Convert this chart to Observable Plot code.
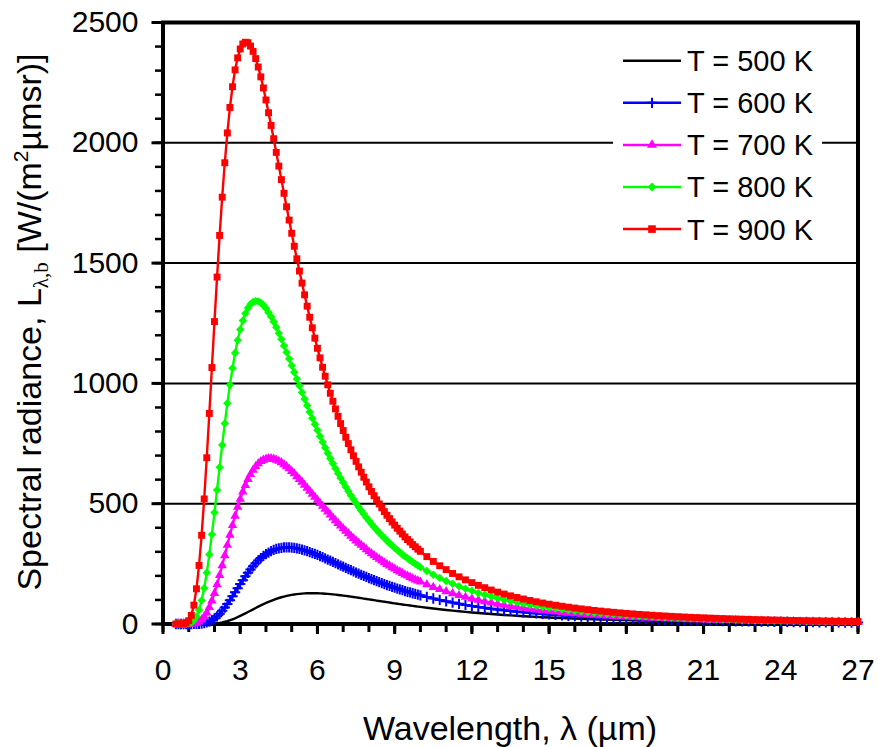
<!DOCTYPE html>
<html><head><meta charset="utf-8">
<script src="https://cdn.jsdelivr.net/npm/d3@7"></script>
<script src="https://cdn.jsdelivr.net/npm/@observablehq/plot@0.6"></script>
<style>
html,body{margin:0;padding:0;background:#fff;}
#chart{width:878px;height:747px;}
</style></head><body><div id="chart"></div>
<script>
// Wavelength grid (µm)
const wavelength = [
0.5,0.6,0.7,0.8,0.9,1.0,1.1,1.2,1.3,1.4,
1.5,1.6,1.7,1.8,1.9,2.0,2.1,2.2,2.3,2.4,
2.5,2.6,2.7,2.8,2.9,3.0,3.1,3.2,3.3,3.4,
3.5,3.6,3.7,3.8,3.9,4.0,4.1,4.2,4.3,4.4,
4.5,4.6,4.7,4.8,4.9,5.0,5.1,5.2,5.3,5.4,
5.5,5.6,5.7,5.8,5.9,6.0,6.1,6.2,6.3,6.4,
6.5,6.6,6.7,6.8,6.9,7.0,7.1,7.2,7.3,7.4,
7.5,7.6,7.7,7.8,7.9,8.0,8.1,8.2,8.3,8.4,
8.5,8.6,8.7,8.8,8.9,9.0,9.1,9.2,9.3,9.4,
9.5,9.6,9.7,9.8,9.9,10.0,
10.25,10.5,10.75,11,11.25,11.5,11.75,12,12.25,12.5,
12.75,13,13.25,13.5,13.75,14,14.25,14.5,14.75,15,
15.25,15.5,15.75,16,16.25,16.5,16.75,17,17.25,17.5,
17.75,18,18.25,18.5,18.75,19,19.25,19.5,19.75,20,
20.25,20.5,20.75,21,21.25,21.5,21.75,22,22.25,22.5,
22.75,23,23.25,23.5,23.75,24,24.25,24.5,24.75,25,
25.25,25.5,25.75,26,26.25,26.5,26.75,27];

const L500 = [
0,0,0,0,0,0,0,0,0,0,
0.1,0.2,0.4,0.7,1.3,2.1,3.3,4.8,6.8,9.3,
12.2,15.6,19.5,23.8,28.5,33.5,38.7,44.1,49.7,55.3,
60.9,66.5,72.0,77.3,82.4,87.4,92.1,96.5,100.6,104.5,
108.0,111.2,114.1,116.8,119.0,121.1,122.8,124.2,125.4,126.4,
127.2,127.6,127.9,128.0,127.9,127.6,127.2,126.6,125.9,125.1,
124.1,123.1,122.0,120.8,119.5,118.1,116.7,115.2,113.7,112.2,
110.6,109.0,107.4,105.7,104.1,102.4,100.7,99.1,97.4,95.7,
94.1,92.4,90.8,89.2,87.5,85.9,84.4,82.8,81.3,79.7,
78.2,76.7,75.3,73.8,72.4,71.0,
67.6,64.4,61.3,58.3,55.5,52.8,50.3,47.9,45.6,43.4,
41.3,39.4,37.5,35.75,34.1,32.5,31.0,29.6,28.3,27.0,
25.8,24.65,23.6,22.5,21.6,20.6,19.75,18.9,18.1,17.4,
16.65,15.97,15.3,14.7,14.1,13.56,13.0,12.52,12.03,11.57,
11.14,10.71,10.31,9.93,9.57,9.22,8.88,8.56,8.26,7.96,
7.68,7.42,7.16,6.92,6.68,6.46,6.24,6.03,5.83,5.64,
5.46,5.28,5.11,4.95,4.80,4.65,4.50,4.36];

const L600 = [
0,0,0,0,0,0,0,0.1,0.3,0.8,
1.8,3.5,6.3,10.3,15.9,23.1,32.0,42.6,54.9,68.5,
83.3,99.0,115.3,132.1,149,166,182,198,213,227,
240,252,264,274,283,290,297,303,308,312,
314,316,318,318,318,317.5,316,314,312,309,
306,303,299,295,291,287,282,278,273,268,
263,258,253,248,243,238,233,228,223.5,219,
214,209,204.5,200,195.4,191,186.6,182,178,174,
170,166,162,158,154.6,151,147.4,144,140.6,137,
134,131,127.8,125,121.9,119,
112.3,106,99.9,94.3,89.0,84.0,79.4,75.1,71.0,67.2,
63.6,60.2,57.1,54.1,51.3,48.7,46.3,44.0,41.8,39.7,
37.8,36.0,34.3,32.7,31.1,29.7,28.4,27.1,25.9,24.7,
23.6,22.6,21.6,20.7,19.8,19.0,18.2,17.45,16.7,16.07,
15.4,14.8,14.2,13.67,13.1,12.65,12.2,11.7,11.3,10.85,
10.45,10.07,9.71,9.37,9.03,8.72,8.41,8.12,7.84,7.58,
7.32,7.08,6.84,6.62,6.40,6.19,5.99,5.80];

const L700 = [
0,0,0,0,0,0.1,0.6,1.7,4.4,9.3,
17.6,29.9,47.1,69.2,96.4,128.1,163.8,202.4,243.4,285,
328,370,410,449,486,519,550,577,602,622,
640,655,667,676,682,686,688,688,686,682,
677,671,663,655,646,635,625,613,602,590,
578,565,553,540,528,515,502,490,478,466,
454,442,430,419,408,397,386,376,366,356,
346,337,328,319,310,301,293,285,277,270,
262.5,255,248.5,242,235,229,222.7,217,211,205,
200,194.5,189.4,184,179.6,175,
163.8,153,143.9,135,126.7,119,111.9,105.3,99.2,93.4,
88.1,83.1,78.4,74.1,70.1,66.3,62.7,59.4,56.3,53.4,
50.7,48.1,45.7,43.5,41.3,39.3,37.5,35.7,34.0,32.4,
31.0,29.6,28.2,27.0,25.8,24.7,23.6,22.6,21.6,20.7,
19.9,19.1,18.3,17.55,16.9,16.2,15.6,14.95,14.4,13.8,
13.3,12.8,12.3,11.9,11.45,11.04,10.64,10.27,9.91,9.56,
9.23,8.92,8.61,8.32,8.04,7.78,7.52,7.27];

const L800 = [
0,0,0,0.1,0.4,1.8,5.9,14.8,31.5,58.4,
97.3,149.1,213.5,288.5,372.5,463,557,651,744,833,
917,994,1063,1126,1179,1224,1261,1291,1313,1329,
1338,1342,1341,1335,1325,1312,1295,1277,1256,1233,
1208,1183,1156,1129,1102,1074,1046,1018,990,962,
935,908,881,855,830,805,780,756,733,710,
688,667,646,626,607,588,569,552,534,518,
502,486,471,457,443,429,416,403,391,379,
368,357,346,336,326,316,307,298,289,281,
273,265,257.5,250,243,236,
220.2,205,191.7,179,167.5,157,146.9,138,129.2,121.4,
114.1,107.3,101.0,95.2,89.8,84.7,80.0,75.6,71.5,67.7,
64.1,60.8,57.6,54.7,51.9,49.3,46.9,44.6,42.5,40.4,
38.5,36.7,35.0,33.4,31.9,30.5,29.2,27.9,26.7,25.5,
24.5,23.4,22.4,21.5,20.65,19.8,19.0,18.3,17.6,16.9,
16.2,15.6,15.0,14.5,13.9,13.4,12.9,12.45,12.0,11.58,
11.17,10.78,10.41,10.05,9.71,9.38,9.07,8.77];

const L900 = [
0,0,0.1,0.8,3.9,13.6,36,78.4,146.3,243.2,
368.7,519.8,691,875,1066,1257,1442,1615,1774,1917,
2041,2147,2233,2303,2353,2390,2411,2418,2416,2402,
2380,2350,2315,2274,2228,2178,2125,2072,2017,1960,
1903,1847,1790,1734,1679,1624,1570,1518,1467,1417,
1368,1321,1275,1231,1188,1146,1106,1067,1030,994,
959,926,894,863,833,804,776,750,724,699,
676,653,631,610,590,570,551,533,516,499,
483,467,452,438,424,411,398,386,374,362,
351,341,330,321,311,302,
280,260,242,226,210,196,183.5,172,160.6,151,
141.2,132.5,124.5,117,110.2,103.8,97.9,92.4,87.2,82.4,
77.9,73.8,69.9,66.2,62.8,59.6,56.5,53.7,51.1,48.6,
46.3,44.1,42.0,40.0,38.2,36.5,34.8,33.3,31.8,30.4,
29.1,27.8,26.7,25.6,24.5,23.5,22.5,21.6,20.8,19.95,
19.2,18.4,17.7,17.1,16.4,15.8,15.2,14.7,14.1,13.6,
13.1,12.7,12.2,11.8,11.4,11.0,10.6,10.3];

const temperatures = [500, 600, 700, 800, 900];
const legendLabels = ["T = 500 K", "T = 600 K", "T = 700 K", "T = 800 K", "T = 900 K"];
const xMajorTicks = [0, 3, 6, 9, 12, 15, 18, 21, 24, 27];
const xMinorTicks = [0,1,2,3,4,5,6,7,8,9,10,11,12,13,14,15,16,17,18,19,20,21,22,23,24,25,26,27];
const yMajorTicks = [0, 500, 1000, 1500, 2000, 2500];
const yMinorTicks = [0,100,200,300,400,500,600,700,800,900,1000,1100,1200,1300,1400,1500,1600,1700,1800,1900,2000,2100,2200,2300,2400,2500];
const gridValues = [500, 1000, 1500, 2000];

// styling per series (no data here)
const styles = [
  {color: "#000000", symbol: null},
  {color: "#0000FF", symbol: "plus", r: 3.4, legendR: 3.4},
  {color: "#FF00FF", symbol: "triangle", r: 3.5, legendR: 3.7},
  {color: "#00FF00", symbol: "diamond2", r: 3.8, legendR: 4.0},
  {color: "#FF0000", symbol: "square", r: 3.9, legendR: 4.3}
];
const valuesByT = [L500, L600, L700, L800, L900];

const FONT = "'Liberation Sans', Arial, Helvetica, sans-serif";

const marks = [
  Plot.ruleY(gridValues, {stroke: "black", strokeWidth: 2}),
  Plot.axisY({ticks: yMinorTicks, tickSize: 7.5, strokeWidth: 2.5, tickFormat: () => "", label: null}),
  Plot.axisY({ticks: yMajorTicks, tickSize: 11, tickPadding: 13.5, strokeWidth: 3, fontSize: 30, tickFormat: d3.format("d"), label: null}),
  Plot.axisX({ticks: xMinorTicks, tickSize: 8.5, strokeWidth: 3, tickFormat: () => "", label: null}),
  Plot.axisX({ticks: xMajorTicks, tickSize: 10.5, tickPadding: 24, strokeWidth: 3, fontSize: 30, tickFormat: d3.format("d"), label: null}),
  Plot.frame({stroke: "black", strokeWidth: 4})
];

temperatures.forEach((T, i) => {
  const rows = wavelength.map((w, j) => ({w, L: valuesByT[i][j], T}));
  const s = styles[i];
  marks.push(Plot.line(rows, {x: "w", y: "L", stroke: s.color, strokeWidth: 2.4}));
  if (s.symbol === "plus") {
    marks.push(Plot.dot(rows, {x: "w", y: "L", symbol: "plus", stroke: s.color, fill: "none", strokeWidth: 2, r: s.r}));
  } else if (s.symbol) {
    marks.push(Plot.dot(rows, {x: "w", y: "L", symbol: s.symbol, fill: s.color, stroke: "none", r: s.r}));
  }
});

const svg = Plot.plot({
  width: 878,
  height: 747,
  marginLeft: 162.5,
  marginRight: 20.5,
  marginTop: 22,
  marginBottom: 123.5,
  style: {fontFamily: FONT, background: "white", color: "black"},
  x: {domain: [0, 27]},
  y: {domain: [0, 2500]},
  marks
});

const root = d3.select(svg);

// Axis titles
const yt = root.append("text")
  .attr("transform", "translate(41,322) rotate(-90)")
  .attr("text-anchor", "middle")
  .attr("font-size", 34)
  .attr("font-family", FONT)
  .attr("fill", "black");
yt.append("tspan").text("Spectral radiance, L");
yt.append("tspan").attr("font-size", 21).attr("font-family", "'Liberation Serif', 'DejaVu Serif', serif").attr("dy", 7).text("λ,b");
yt.append("tspan").attr("dy", -7).text(" [W/(m");
yt.append("tspan").attr("font-size", 21).attr("dy", -13).text("2");
yt.append("tspan").attr("dy", 13).text("µmsr)]");

root.append("text")
  .attr("x", 510).attr("y", 740)
  .attr("text-anchor", "middle")
  .attr("font-size", 34)
  .attr("font-family", FONT)
  .attr("fill", "black")
  .text("Wavelength, λ (µm)");

// Legend
const symbolMap = {plus: d3.symbolPlus, triangle: d3.symbolTriangle, diamond2: d3.symbolDiamond2, square: d3.symbolSquare};
const lg = root.append("g").attr("text-anchor", "start");
lg.append("rect").attr("x", 613).attr("y", 38).attr("width", 209).attr("height", 214).attr("fill", "white");
legendLabels.forEach((label, i) => {
  const s = styles[i];
  const cy = 60.7 + i * 42.1;
  lg.append("line").attr("x1", 623).attr("x2", 681).attr("y1", cy).attr("y2", cy)
    .attr("stroke", s.color).attr("stroke-width", 2.5);
  if (s.symbol) {
    const p = lg.append("path")
      .attr("transform", `translate(652,${cy})`)
      .attr("d", d3.symbol(symbolMap[s.symbol], Math.PI * s.legendR * s.legendR)());
    if (s.symbol === "plus") p.attr("fill", "none").attr("stroke", s.color).attr("stroke-width", 2);
    else p.attr("fill", s.color);
  }
  lg.append("text").attr("x", 687).attr("y", cy).attr("dy", "0.36em")
    .attr("text-anchor", "start")
    .attr("font-size", 29).attr("font-family", FONT).attr("fill", "black").text(label);
});

document.getElementById("chart").appendChild(svg);
</script>
</body></html>
